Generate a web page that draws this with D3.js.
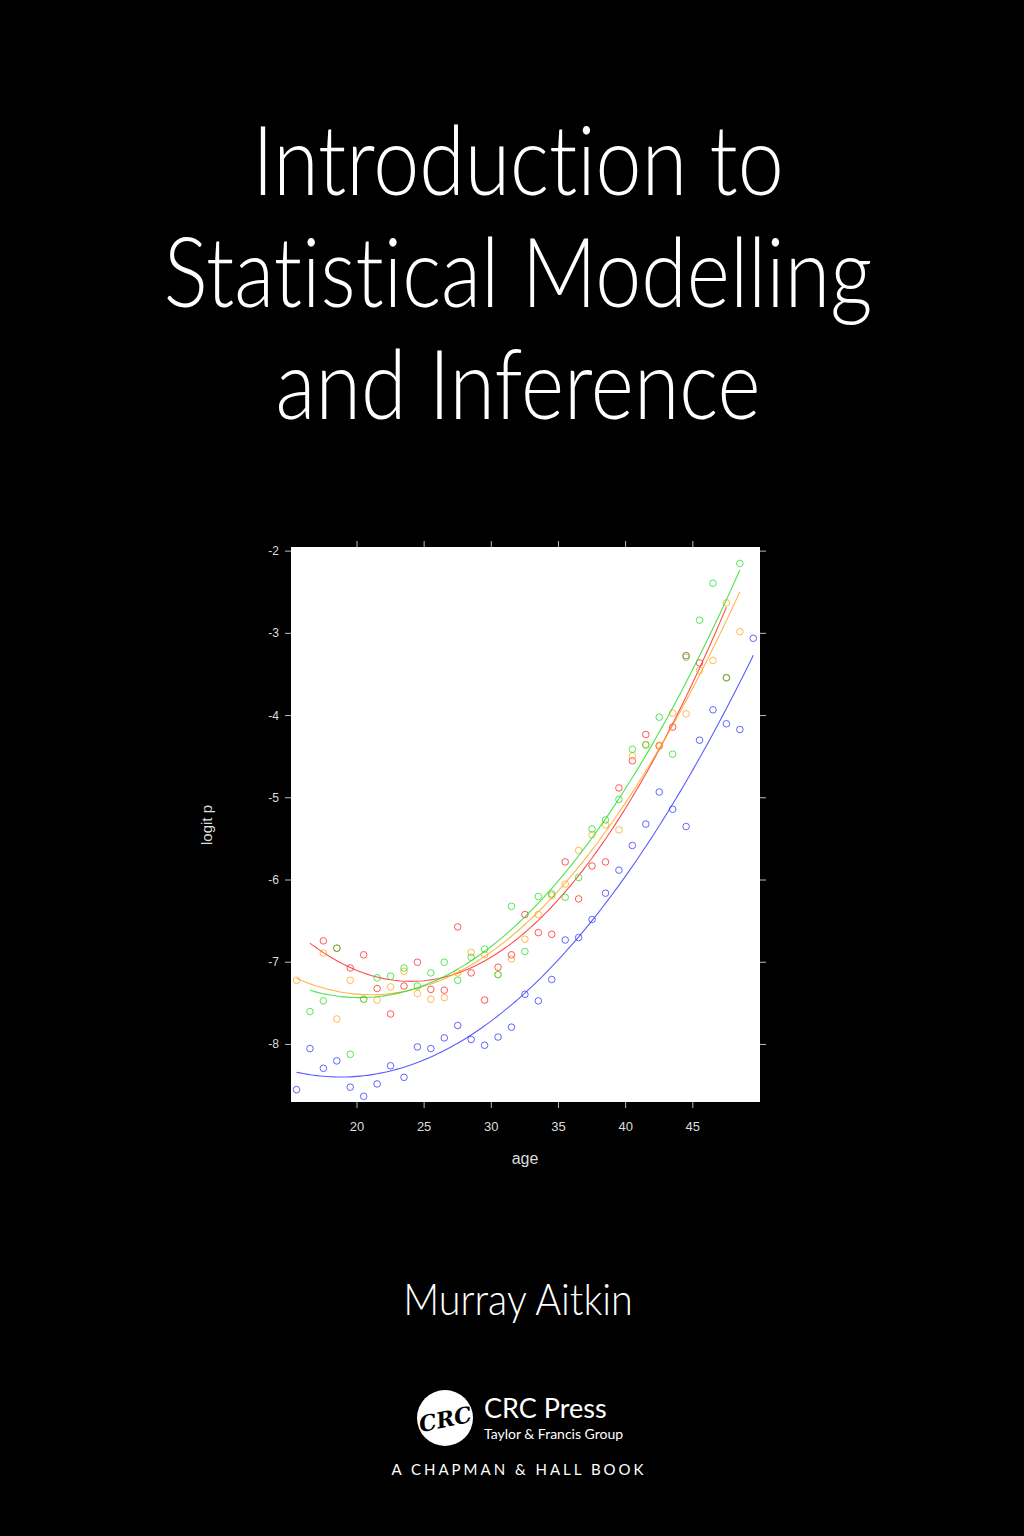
<!DOCTYPE html>
<html>
<head>
<meta charset="utf-8">
<style>
  body { margin: 0; background: #000; }
  svg { display: block; }
  text { font-variant-ligatures: none; }
</style>
</head>
<body>
<div id="cover"></div>
<script src="https://d3js.org/d3.v7.min.js"></script>
<script>
// ages (one point per year) and logit p per series
var agesBlue = d3.range(15.5, 50, 1);
var blueVals = [-8.55, -8.05, -8.29, -8.2, -8.52, -8.63, -8.48, -8.26, -8.40, -8.03, -8.05, -7.92, -7.77, -7.94, -8.01, -7.91, -7.79, -7.39, -7.47, -7.21, -6.73, -6.70, -6.48, -6.16, -5.88, -5.58, -5.32, -4.93, -5.14, -5.35, -4.30, -3.93, -4.10, -4.17, -3.06];

var agesRed = d3.range(17.5, 46, 1).concat([47.5]);
var redVals = [-6.74, -6.83, -7.07, -6.91, -7.32, -7.63, -7.29, -7.0, -7.33, -7.34, -6.57, -7.13, -7.46, -7.06, -6.91, -6.42, -6.64, -6.66, -5.78, -6.23, -5.83, -5.78, -4.88, -4.55, -4.23, -4.37, -4.14, -3.27, -3.36, -3.54];

var agesOrange = [15.5].concat(d3.range(17.5, 49, 1));
var orangeVals = [-7.22, -6.89, -7.69, -7.22, -7.45, -7.46, -7.30, -7.11, -7.38, -7.45, -7.43, -7.13, -6.88, -6.91, -7.15, -6.96, -6.72, -6.42, -6.19, -6.05, -5.64, -5.45, -5.33, -5.39, -4.49, -4.35, -4.36, -3.97, -3.98, -3.45, -3.33, -2.63, -2.98];

var agesGreen = d3.range(16.5, 49, 1);
var greenVals = [-7.60, -7.47, -6.83, -8.12, -7.45, -7.19, -7.17, -7.07, -7.29, -7.13, -7.0, -7.22, -6.94, -6.84, -7.15, -6.32, -6.87, -6.20, -6.17, -6.21, -5.97, -5.38, -5.27, -5.02, -4.41, -4.36, -4.02, -4.47, -3.29, -2.84, -2.39, -3.54, -2.15];

var xTicks = [20, 25, 30, 35, 40, 45];
var yTicks = [-2, -3, -4, -5, -6, -7, -8];

var series = [
  { name: "blue",   color: "#3333ff", ages: agesBlue,   vals: blueVals,   from: 15.5, to: 49.5 },
  { name: "red",    color: "#ff2222", ages: agesRed,    vals: redVals,    from: 16.5, to: 47.5 },
  { name: "orange", color: "#ffa31a", ages: agesOrange, vals: orangeVals, from: 15.5, to: 48.5 },
  { name: "green",  color: "#22dd22", ages: agesGreen,  vals: greenVals,  from: 16.5, to: 48.5 }
];

// least squares quadratic fit
function quadFit(xs, ys) {
  var S = [[0,0,0],[0,0,0],[0,0,0]], b = [0,0,0];
  xs.forEach(function(x, i) {
    var p = [1, x, x*x];
    for (var r = 0; r < 3; r++) {
      b[r] += p[r] * ys[i];
      for (var c = 0; c < 3; c++) S[r][c] += p[r] * p[c];
    }
  });
  for (var k = 0; k < 3; k++) {
    for (var r = k + 1; r < 3; r++) {
      var f = S[r][k] / S[k][k];
      for (var c = k; c < 3; c++) S[r][c] -= f * S[k][c];
      b[r] -= f * b[k];
    }
  }
  var a = [0,0,0];
  for (var r = 2; r >= 0; r--) {
    var s = b[r];
    for (var c = r + 1; c < 3; c++) s -= S[r][c] * a[c];
    a[r] = s / S[r][r];
  }
  return function(x) { return a[0] + a[1]*x + a[2]*x*x; };
}

var width = 1024, height = 1536;
var svg = d3.select("#cover").append("svg")
    .attr("width", width)
    .attr("height", height);

svg.append("rect").attr("width", width).attr("height", height).attr("fill", "#000");

// title
var titleLines = ["Introduction to", "Statistical Modelling", "and Inference"];
svg.selectAll(".title")
    .data(titleLines)
    .enter().append("text")
    .attr("class", "title")
    .attr("transform", function(d, i) { return "translate(518," + (195 + i * 112) + ") scale(0.86,1)"; })
    .attr("text-anchor", "middle")
    .attr("fill", "#fff")
    .attr("font-family", "Lato, sans-serif")
    .attr("font-weight", 300)
    .attr("font-size", 96)
    .text(function(d) { return d; });

// plot
var x = d3.scaleLinear().domain([15.09, 50.0]).range([291, 760]);
var y = d3.scaleLinear().domain([-1.95, -8.70]).range([547, 1102]);

svg.append("rect")
    .attr("x", 291).attr("y", 547)
    .attr("width", 469).attr("height", 555)
    .attr("fill", "#fff");

var tickCol = "#bbb";
svg.selectAll(".ytick").data(yTicks).enter().append("line")
    .attr("x1", 285).attr("x2", 291)
    .attr("y1", d => y(d)).attr("y2", d => y(d))
    .attr("stroke", tickCol);
svg.selectAll(".ylab").data(yTicks).enter().append("text")
    .attr("x", 279).attr("y", d => y(d) + 4)
    .attr("text-anchor", "end")
    .attr("fill", "#ddd")
    .attr("font-family", "Liberation Sans, Arial, sans-serif")
    .attr("font-size", 12)
    .text(d => d);
svg.selectAll(".ytickr").data(yTicks).enter().append("line")
    .attr("x1", 760).attr("x2", 766)
    .attr("y1", d => y(d)).attr("y2", d => y(d))
    .attr("stroke", tickCol);
svg.selectAll(".xtickt").data(xTicks).enter().append("line")
    .attr("x1", d => x(d)).attr("x2", d => x(d))
    .attr("y1", 541).attr("y2", 547)
    .attr("stroke", tickCol);
svg.selectAll(".xtickb").data(xTicks).enter().append("line")
    .attr("x1", d => x(d)).attr("x2", d => x(d))
    .attr("y1", 1102).attr("y2", 1108)
    .attr("stroke", tickCol);
svg.selectAll(".xlab").data(xTicks).enter().append("text")
    .attr("x", d => x(d)).attr("y", 1131)
    .attr("text-anchor", "middle")
    .attr("fill", "#ddd")
    .attr("font-family", "Liberation Sans, Arial, sans-serif")
    .attr("font-size", 13)
    .text(d => d);

svg.append("text")
    .attr("x", 525).attr("y", 1164)
    .attr("text-anchor", "middle")
    .attr("fill", "#ddd")
    .attr("font-family", "Liberation Sans, Arial, sans-serif")
    .attr("font-size", 16)
    .text("age");
svg.append("text")
    .attr("transform", "translate(212,825) rotate(-90)")
    .attr("text-anchor", "middle")
    .attr("fill", "#ddd")
    .attr("font-family", "Liberation Sans, Arial, sans-serif")
    .attr("font-size", 15)
    .text("logit p");

var line = d3.line().x(d => x(d[0])).y(d => y(d[1]));

series.forEach(function(s) {
  var fit = quadFit(s.ages, s.vals);
  var pts = d3.range(s.from, s.to + 0.001, 0.25).map(a => [a, fit(a)]);
  svg.append("path")
      .attr("d", line(pts))
      .attr("fill", "none")
      .attr("stroke", s.color)
      .attr("stroke-opacity", 0.8)
      .attr("stroke-width", 1.1);
  svg.selectAll(".pt-" + s.name)
      .data(s.ages.map((a, i) => [a, s.vals[i]]))
      .enter().append("circle")
      .attr("cx", d => x(d[0]))
      .attr("cy", d => y(d[1]))
      .attr("r", 3.3)
      .attr("fill", "none")
      .attr("stroke", s.color)
      .attr("stroke-opacity", 0.75)
      .attr("stroke-width", 1);
});

// author
svg.append("text")
    .attr("transform", "translate(518,1315) scale(0.9,1)")
    .attr("text-anchor", "middle")
    .attr("fill", "#fff")
    .attr("font-family", "Lato, sans-serif")
    .attr("font-weight", 300)
    .attr("font-size", 44)
    .text("Murray Aitkin");

// publisher
svg.append("circle").attr("cx", 445).attr("cy", 1418).attr("r", 28).attr("fill", "#fff");
svg.append("text")
    .attr("x", 445).attr("y", 1427)
    .attr("text-anchor", "middle")
    .attr("fill", "#000")
    .attr("font-family", "DejaVu Serif, serif")
    .attr("font-weight", "bold")
    .attr("font-style", "italic")
    .attr("font-size", 22)
    .attr("transform", "rotate(-12,445,1418)")
    .text("CRC");
svg.append("text")
    .attr("x", 484).attr("y", 1418)
    .attr("fill", "#fff")
    .attr("font-family", "Lato, sans-serif")
    .attr("font-size", 27)
    .text("CRC Press");
svg.append("text")
    .attr("x", 484).attr("y", 1439)
    .attr("fill", "#fff")
    .attr("font-family", "Lato, sans-serif")
    .attr("font-size", 14)
    .text("Taylor & Francis Group");
svg.append("text")
    .attr("x", 519).attr("y", 1475)
    .attr("text-anchor", "middle")
    .attr("fill", "#fff")
    .attr("font-family", "Lato, sans-serif")
    .attr("font-size", 15)
    .attr("letter-spacing", 3)
    .text("A CHAPMAN & HALL BOOK");
</script>
</body>
</html>
